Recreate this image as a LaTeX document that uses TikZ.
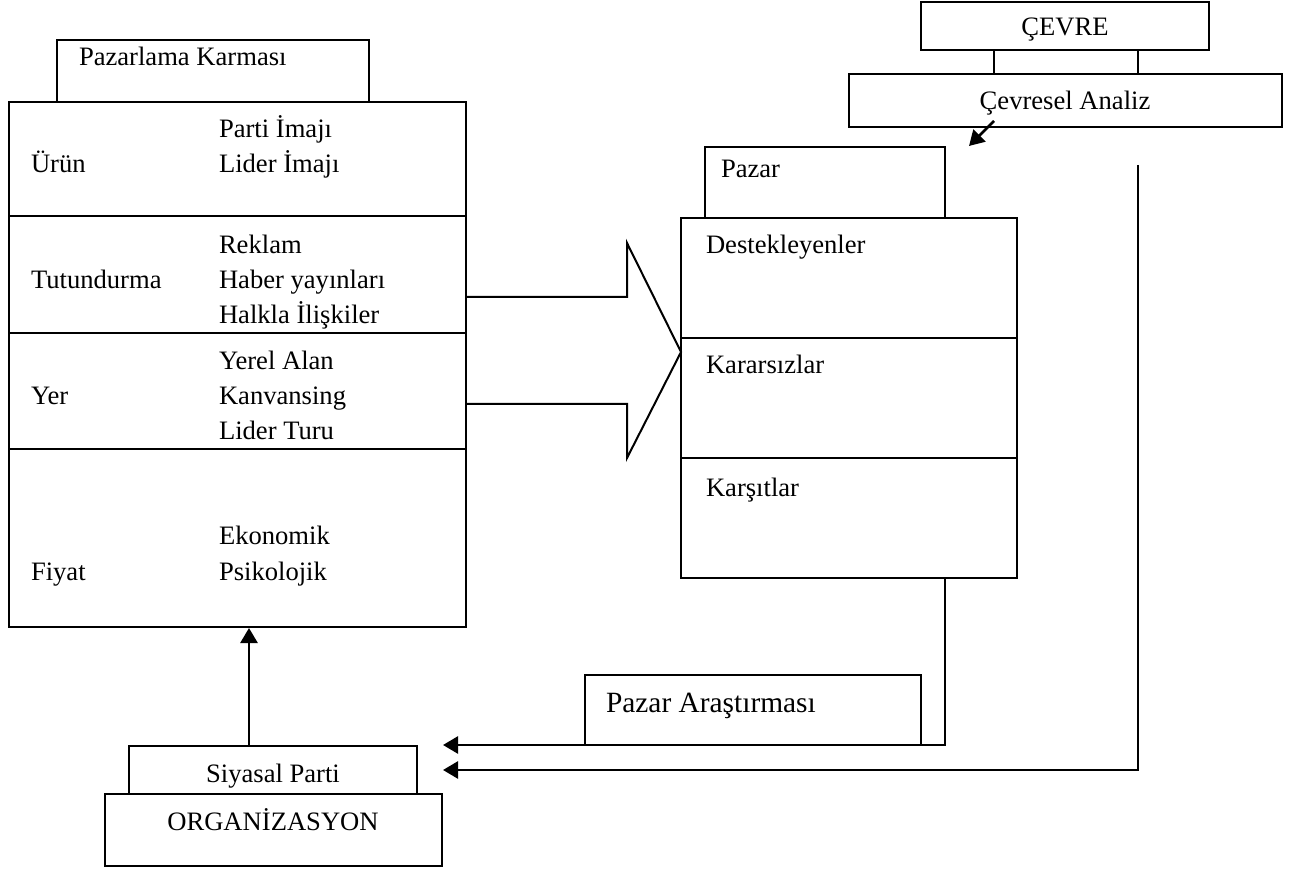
\documentclass[tikz,border=0pt]{standalone}
\usepackage{fontspec}
\setmainfont{Liberation Serif}
\usetikzlibrary{arrows.meta,fit}
\begin{document}
\begin{tikzpicture}[x=0.5pt,y=-0.5pt,line width=1pt,
  box/.style={draw,inner sep=0pt},
  txt/.style={inner sep=0pt,anchor=base west,font=\fontsize{13.3}{16}\selectfont},
  ctxt/.style={txt,anchor=base},
  arr/.style={line width=1.3pt,-{Triangle[length=7.5pt,width=8.5pt]}}]
\useasboundingbox (0,0) rectangle (1304,870);

% Marketing mix block
\node[box,fit={(57,40)(369,102)}] (pk) {};
\node[txt] (pkT) at (78,66) {Pazarlama Karması};
\node[box,fit={(9,102)(466,216)}] (urun) {};
\node[box,fit={(9,216)(466,333)}] (tutun) {};
\node[box,fit={(9,333)(466,449)}] (yer) {};
\node[box,fit={(9,449)(466,627)}] (fiyat) {};

\node[txt] (urunT) at (30,173) {Ürün};
\node[txt] (u1) at (218,138) {Parti İmajı};
\node[txt] (u2) at (218,173) {Lider İmajı};

\node[txt] (tutT) at (30,289) {Tutundurma};
\node[txt] (t1) at (218,254) {Reklam};
\node[txt] (t2) at (218,289) {Haber yayınları};
\node[txt] (t3) at (218,324) {Halkla İlişkiler};

\node[txt] (yerT) at (30,405) {Yer};
\node[txt] (y1) at (218,370) {Yerel Alan};
\node[txt] (y2) at (218,405) {Kanvansing};
\node[txt] (y3) at (218,440) {Lider Turu};

\node[txt] (fiyT) at (30,580) {Fiyat};
\node[txt] (f1) at (218,545) {Ekonomik};
\node[txt] (f2) at (218,580) {Psikolojik};

% Block arrow towards the market
\draw (466,297) -- (627,297) -- (627,243) -- (681,352) -- (627,458) -- (627,404) -- (466,404);

% Market block
\node[box,fit={(705,147)(945,218)}] (pazar) {};
\node[txt] (pazarT) at (720,178) {Pazar};
\node[box,fit={(681,218)(1017,338)}] (dest) {};
\node[box,fit={(681,338)(1017,458)}] (karar) {};
\node[box,fit={(681,458)(1017,578)}] (karsit) {};
\node[txt] (destT) at (705,254) {Destekleyenler};
\node[txt] (kararT) at (705,374) {Kararsızlar};
\node[txt] (karsitT) at (705,497) {Karşıtlar};

% Environment
\node[box,fit={(921,2)(1209,50)}] (cevre) {};
\node[ctxt] (cevreT) at (1065,36) {ÇEVRE};
\node[box,fit={(849,74)(1282,127)}] (analiz) {};
\node[ctxt] (analizT) at (1065,110) {Çevresel Analiz};
\coordinate (cl) at (994,0);
\coordinate (cr) at (1138,0);
\draw (cevre.south -| cl) -- (analiz.north -| cl);
\draw (cevre.south -| cr) -- (analiz.north -| cr);
\coordinate (dA) at (994,121);
\coordinate (dB) at (969,146);
\draw[arr] (dA) -- (dB);

% Market research
\node[box,fit={(585,675)(921,745)}] (arast) {};
\node[txt,font=\fontsize{14.7}{17}\selectfont] (arastT) at (605,712) {Pazar Araştırması};

% Organisation
\node[box,fit={(129,746)(417,794)}] (sp) {};
\node[ctxt] (spT) at (273,782) {Siyasal Parti};
\node[box,fit={(105,794)(442,866)}] (org) {};
\node[ctxt] (orgT) at (273,830) {ORGANİZASYON};

% Feedback connectors
\coordinate (upx) at (249,0);
\draw[arr] (sp.north -| upx) -- (fiyat.south -| upx);

\coordinate (pzx) at (945,0);
\coordinate (in1) at (443,745);
\draw[arr] (karsit.south -| pzx) -- (pzx |- in1) -- (in1);

\coordinate (envTop) at (1138,165);
\coordinate (in2) at (443,770);
\draw[arr] (envTop) -- (envTop |- in2) -- (in2);
\end{tikzpicture}
\end{document}
